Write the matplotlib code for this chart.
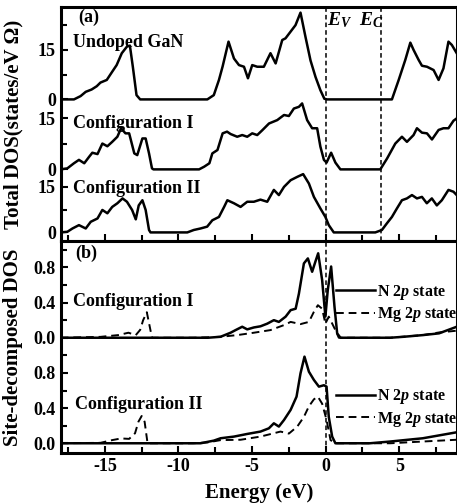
import matplotlib
matplotlib.use("Agg")
import matplotlib.pyplot as plt
from matplotlib.ticker import MultipleLocator, FixedLocator

plt.rcParams['font.family'] = ['Liberation Serif', 'DejaVu Serif']
plt.rcParams['font.weight'] = 'bold'
plt.rcParams['axes.labelweight'] = 'bold'
plt.rcParams['font.size'] = 13
plt.rcParams['axes.unicode_minus'] = False
plt.rcParams['mathtext.fontset'] = 'custom'
plt.rcParams['mathtext.rm'] = 'Liberation Serif:bold'
plt.rcParams['mathtext.it'] = 'Liberation Serif:bold:italic'
plt.rcParams['mathtext.bf'] = 'Liberation Serif:bold'

# ---- total DOS (panel a) ----
undoped_E = [-18.0, -17.1, -16.65, -16.3, -15.9, -15.55, -15.3, -14.87, -14.5, -14.2,
             -13.85, -13.5, -13.3, -13.1, -12.85, -12.6, -8.04, -7.6, -7.25, -7.0,
             -6.6, -6.23, -5.89, -5.55, -5.28, -4.99, -4.65, -4.2, -3.75, -3.4,
             -2.95, -2.73, -2.39, -2.05, -1.71, -1.37, -1.03, -0.69, -0.36, -0.09,
             0.1, 4.5, 4.96, 5.41, 5.75, 5.97, 6.31, 6.54, 6.88, 7.33,
             7.67, 8.0, 8.34, 8.57, 8.9]
undoped_dos = [0, 0, 1.0, 2.3, 3.0, 4.0, 5.1, 5.9, 8.4, 10.4,
               14.0, 16.0, 16.3, 9.9, 1.3, 0, 0, 1.3, 5.9, 10.0,
               17.5, 12.4, 10.4, 9.9, 6.4, 10.4, 9.9, 9.9, 14.0, 10.9,
               18.0, 18.5, 20.5, 22.5, 26.3, 18.9, 11.8, 6.8, 2.8, 0.2,
               0, 0, 5.9, 12.0, 17.2, 15.0, 12.0, 10.2, 9.9, 8.9,
               5.9, 9.4, 17.5, 16.5, 14.0]

cfg1_E = [-18.0, -17.55, -17.1, -16.76, -16.4, -16.07, -15.85, -15.5, -15.17, -14.83,
          -14.5, -14.15, -13.9, -13.6, -13.35, -13.0, -12.8, -12.45, -12.23, -12.0,
          -11.8, -11.7, -8.6, -8.25, -7.9, -7.7, -7.35, -7.0, -6.7, -6.46,
          -6.01, -5.67, -5.33, -4.99, -4.65, -4.31, -3.85, -3.29, -2.83, -2.5,
          -2.16, -1.82, -1.6, -1.26, -0.92, -0.58, -0.36, -0.12, 0.06, 0.37,
          0.66, 1.0, 3.71, 4.17, 4.73, 5.18, 5.52, 5.97, 6.2, 6.54,
          6.88, 7.22, 7.67, 8.0, 8.34, 8.68, 8.9]
cfg1_dos = [0, 0.3, 1.8, 2.8, 1.8, 3.7, 4.9, 4.5, 7.6, 6.8,
            8.1, 9.6, 12.1, 10.6, 10.6, 4.7, 4.2, 9.1, 9.1, 4.7,
            0.3, 0, 0, 0.8, 1.8, 4.7, 5.7, 10.6, 11.1, 10.4,
            9.6, 10.1, 9.6, 10.6, 10.1, 11.5, 13.5, 14.5, 16.0, 15.7,
            17.9, 18.4, 19.4, 14.5, 12.1, 12.1, 6.7, 2.8, 2.0, 4.9,
            2.0, 0, 0, 3.2, 7.6, 9.6, 8.1, 10.1, 12.1, 10.8,
            10.6, 8.8, 11.6, 12.1, 12.1, 14.3, 15.0]

cfg2_E = [-18.0, -17.55, -17.2, -16.76, -16.3, -15.96, -15.5, -15.17, -14.83, -14.5,
          -14.15, -13.8, -13.5, -13.15, -12.9, -12.7, -12.45, -12.23, -12.0, -11.9,
          -9.4, -8.96, -8.5, -8.05, -7.7, -7.25, -6.9, -6.68, -6.23, -5.78,
          -5.33, -4.88, -4.43, -3.97, -3.52, -3.18, -2.83, -2.38, -1.93, -1.53,
          -1.14, -0.8, -0.36, -0.02, 0.21, 0.55, 3.37, 3.82, 4.16, 4.5,
          4.84, 5.18, 5.52, 5.86, 6.2, 6.54, 6.87, 7.21, 7.55, 7.89,
          8.34, 8.68, 8.9]
cfg2_dos = [0, 0.2, 1.3, 2.4, 1.3, 3.5, 4.6, 7.4, 6.3, 8.4,
            9.6, 11.2, 10.1, 7.4, 4.3, 8.9, 10.6, 7.4, 0.8, 0,
            0, 0.8, 1.3, 1.9, 4.0, 5.1, 8.4, 10.6, 9.6, 8.4,
            10.1, 10.1, 10.8, 10.1, 14.0, 12.3, 15.0, 17.2, 18.3, 19.2,
            16.1, 11.7, 7.9, 5.1, 2.4, 0, 0, 0.8, 3.0, 5.1,
            7.9, 10.6, 11.2, 12.3, 11.2, 11.7, 9.6, 11.2, 8.9, 10.6,
            14.0, 13.4, 12.3]

# ---- site-decomposed DOS (panel b) ----
c1_n_E = [-18.0, -8.0, -7.14, -6.46, -6.12, -5.67, -5.33, -4.88, -4.43, -3.97,
          -3.52, -3.18, -2.72, -2.38, -2.04, -1.82, -1.48, -1.21, -0.92, -0.69,
          -0.51, -0.24, -0.02, 0.14, 0.37, 0.6, 0.78, 1.0, 4.39, 5.3,
          6.6, 7.7, 8.9]
c1_n = [0, 0, 0.011, 0.057, 0.087, 0.125, 0.095, 0.117, 0.13, 0.16,
        0.2, 0.18, 0.24, 0.314, 0.33, 0.5, 0.845, 0.902, 0.75, 0.87,
        0.96, 0.655, 0.24, 0.54, 0.81, 0.35, 0.05, 0, 0, 0.011,
        0.03, 0.05, 0.125]
c1_mg_E = [-18.0, -15.3, -14.1, -13.4, -12.9, -12.6, -12.4, -12.15, -11.95, -11.8,
           -9.0, -8.0, -7.14, -6.01, -4.88, -3.75, -2.83, -2.38, -1.71, -1.14,
           -0.8, -0.53, -0.24, -0.02, 0.21, 0.66, 0.89, 4.39, 6.6, 7.7,
           8.9]
c1_mg = [0, 0.01, 0.03, 0.057, 0.03, 0.09, 0.2, 0.29, 0.125, 0,
         0, 0.005, 0.011, 0.03, 0.057, 0.087, 0.144, 0.18, 0.155, 0.18,
         0.295, 0.37, 0.33, 0.16, 0.24, 0.087, 0, 0, 0.03, 0.06,
         0.08]

c2_n_E = [-18.0, -8.5, -7.6, -7.14, -6.23, -5.33, -4.43, -3.86, -3.52, -3.18,
          -2.83, -2.38, -1.98, -1.71, -1.44, -1.14, -0.8, -0.46, -0.12, 0.06,
          0.21, 0.44, 0.66, 3.0, 4.39, 6.6, 8.9]
c2_n = [0, 0, 0.03, 0.057, 0.076, 0.106, 0.133, 0.17, 0.227, 0.19,
        0.265, 0.38, 0.53, 0.795, 0.985, 0.814, 0.72, 0.644, 0.66, 0.644,
        0.3, 0.076, 0, 0, 0.02, 0.057, 0.125]
c2_mg_E = [-18.0, -15.3, -14.5, -13.9, -13.35, -12.95, -12.72, -12.5, -12.3, -12.1,
           -9.0, -8.0, -7.14, -5.78, -4.43, -3.07, -2.5, -1.93, -1.48, -1.14,
           -0.8, -0.53, -0.24, 0.06, 0.33, 0.66, 4.39, 6.6, 8.9]
c2_mg = [0, 0.005, 0.036, 0.055, 0.05, 0.114, 0.245, 0.31, 0.245, 0,
         0, 0.01, 0.036, 0.04, 0.076, 0.133, 0.11, 0.19, 0.3, 0.42,
         0.5, 0.53, 0.45, 0.265, 0.036, 0, 0, 0.02, 0.04]

E_v = 0.0
E_c = 3.76

# offsets / gains of the stacked curves
top_off = {'undoped': 40.3, 'cfg1': 19.1, 'cfg2': 0.0}
top_gain = {'undoped': 1.0, 'cfg1': 1.03, 'cfg2': 0.92}
bot_off = {'cfg1': 1.2, 'cfg2': 0.0}

W, H = 457, 503
fig = plt.figure(figsize=(W / 100, H / 100), dpi=100)
ax1 = fig.add_axes([60.7 / W, (H - 241) / H, 396 / W, 234 / H])
ax2 = fig.add_axes([60.7 / W, (H - 453.3) / H, 396 / W, 212.3 / H], sharex=ax1)

lw = 1.8
ax1.plot(undoped_E, [top_off['undoped'] + top_gain['undoped'] * v for v in undoped_dos], 'k-', lw=lw)
ax1.plot(cfg1_E, [top_off['cfg1'] + top_gain['cfg1'] * v for v in cfg1_dos], 'k-', lw=lw)
ax1.plot(cfg2_E, [top_off['cfg2'] + top_gain['cfg2'] * v for v in cfg2_dos], 'k-', lw=lw)
ax1.axvline(E_v, color='k', ls='--', lw=1.1, dashes=(3, 2))
ax1.axvline(E_c, color='k', ls='--', lw=1.1, dashes=(3, 2))

ax1.set_xlim(-18.0, 8.9)
ax1.set_ylim(-2.6, 68.3)

maj, mnr = [], []
for k in ['undoped', 'cfg1', 'cfg2']:
    maj += [top_off[k], top_off[k] + 15 * top_gain[k]]
    mnr += [top_off[k] + 7.5 * top_gain[k]]
mnr.append(top_off['undoped'] + 22.5 * top_gain['undoped'])
ax1.yaxis.set_major_locator(FixedLocator(maj))
ax1.set_yticklabels(['0', '15'] * 3)
ax1.yaxis.set_minor_locator(FixedLocator(mnr))
ax1.set_ylabel('Total DOS(states/eV \u03a9)', fontsize=15)
ax1.tick_params(axis='x', labelbottom=False)

ax1.text(0.044, 0.957, '(a)', transform=ax1.transAxes, fontsize=13, va='center')
ax1.text(0.031, 0.85, 'Undoped GaN', transform=ax1.transAxes, fontsize=13, va='center')
ax1.text(0.031, 0.504, 'Configuration I', transform=ax1.transAxes, fontsize=13, va='center')
ax1.text(0.031, 0.226, 'Configuration II', transform=ax1.transAxes, fontsize=13, va='center')
ax1.text(0.08, 0.944, r'$E_V$', transform=ax1.get_xaxis_transform(), fontsize=14, va='center')
ax1.text(2.25, 0.944, r'$E_C$', transform=ax1.get_xaxis_transform(), fontsize=14, va='center')

# bottom panel
ax2.plot(c1_n_E, [bot_off['cfg1'] + v for v in c1_n], 'k-', lw=lw, label=r'N $\mathit{2p}$ state')
ax2.plot(c1_mg_E, [bot_off['cfg1'] + v for v in c1_mg], 'k--', lw=1.4, dashes=(4, 2.5), label=r'Mg $\mathit{2p}$ state')
h2n, = ax2.plot(c2_n_E, [bot_off['cfg2'] + v for v in c2_n], 'k-', lw=lw, label=r'N $\mathit{2p}$ state')
h2m, = ax2.plot(c2_mg_E, [bot_off['cfg2'] + v for v in c2_mg], 'k--', lw=1.4, dashes=(4, 2.5), label=r'Mg $\mathit{2p}$ state')
ax2.axvline(E_v, color='k', ls='--', lw=1.1, dashes=(3, 2))
ax2.set_ylim(-0.114, 2.3)

bmaj = [bot_off[k] + v for k in ['cfg2', 'cfg1'] for v in (0.0, 0.4, 0.8)]
bmnr = [bot_off[k] + v for k in ['cfg2', 'cfg1'] for v in (0.2, 0.6, 1.0)]
ax2.yaxis.set_major_locator(FixedLocator(bmaj))
ax2.set_yticklabels(['0.0', '0.4', '0.8'] * 2)
ax2.yaxis.set_minor_locator(FixedLocator(bmnr))
ax2.xaxis.set_major_locator(MultipleLocator(5))
ax2.xaxis.set_minor_locator(MultipleLocator(2.5))
ax2.set_xlabel('Energy (eV)', fontsize=15, labelpad=6)
ax2.set_ylabel('Site-decomposed DOS', fontsize=15)

ax2.text(0.036, 0.943, '(b)', transform=ax2.transAxes, fontsize=13, va='center')
ax2.text(0.031, 0.713, 'Configuration I', transform=ax2.transAxes, fontsize=13, va='center')
ax2.text(0.036, 0.232, 'Configuration II', transform=ax2.transAxes, fontsize=13, va='center')

lines = ax2.get_lines()
leg1 = ax2.legend(lines[0:2], [l.get_label() for l in lines[0:2]], loc='center left',
                  bbox_to_anchor=(0.694, 0.706), frameon=False, fontsize=11.5,
                  borderpad=0, borderaxespad=0, handlelength=2.45, handletextpad=0.15,
                  labelspacing=0.22)
ax2.add_artist(leg1)
ax2.legend([h2n, h2m], [h2n.get_label(), h2m.get_label()], loc='center left',
           bbox_to_anchor=(0.694, 0.213), frameon=False, fontsize=11.5,
           borderpad=0, borderaxespad=0, handlelength=2.45, handletextpad=0.15,
           labelspacing=0.22)

for ax in (ax1, ax2):
    for s in ax.spines.values():
        s.set_linewidth(2.2)
    ax.tick_params(which='both', direction='in', width=1.5, top=False, right=False)
    ax.tick_params(which='major', length=5, labelsize=13)
    ax.tick_params(which='minor', length=4)
ax1.yaxis.set_label_coords(-0.095, 0.5)
ax2.yaxis.set_label_coords(-0.095, 0.5)

fig.savefig('out.png', dpi=100)
